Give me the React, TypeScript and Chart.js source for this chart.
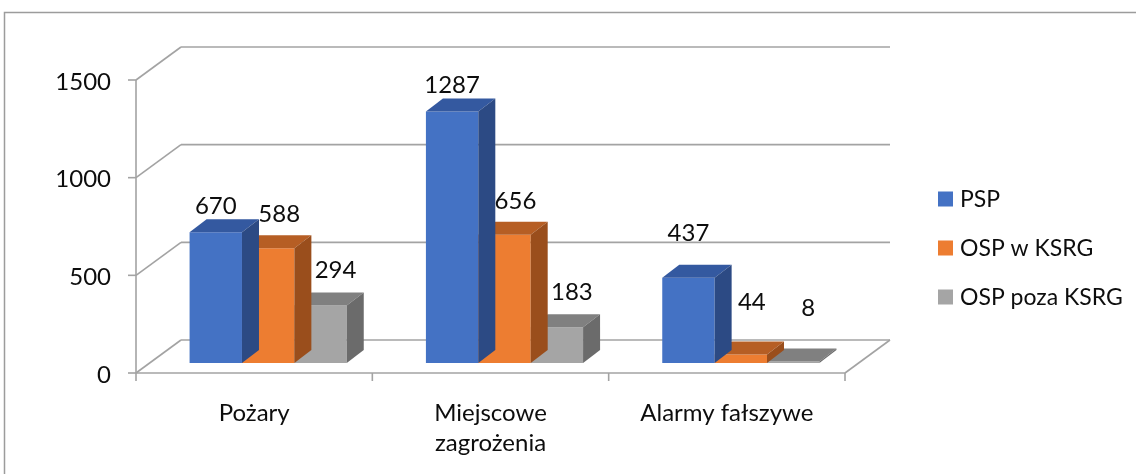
import React, { useEffect, useRef } from "react";
import { Chart, registerables } from "chart.js";

Chart.register(...registerables);

const categories: string[][] = [["Pożary"], ["Miejscowe", "zagrożenia"], ["Alarmy fałszywe"]];
const seriesNames = ["PSP", "OSP w KSRG", "OSP poza KSRG"];
const pspValues = [670, 1287, 437];
const ospKsrgValues = [588, 656, 44];
const ospPozaValues = [294, 183, 8];
const yTicks = [0, 500, 1000, 1500];

// styling
const FONT = "Lato, 'Open Sans', sans-serif";
const FRONT = { dx: -14, dy: 10 };
const BACK = { dx: 31, dy: -23 };
const DEPTH = { dx: 17, dy: -13 };
const GRID = "#a3a3a3";
const faceColors = ["#4472C4", "#ED7D31", "#A5A5A5"];
const topColors = ["#3459A0", "#B65E24", "#808080"];
const sideColors = ["#2C4A84", "#9A4E1C", "#6B6B6B"];
const labelShiftX = [0, 11, 15];
const labelLiftSeries = [26, 34, 35];
const labelLiftCategory = [0, 0, 18];

function line(ctx: CanvasRenderingContext2D, x1: number, y1: number, x2: number, y2: number) {
  ctx.beginPath();
  ctx.moveTo(x1, y1);
  ctx.lineTo(x2, y2);
  ctx.stroke();
}

const pseudo3d = {
  id: "pseudo3d",
  beforeDraw(chart: any) {
    const ctx: CanvasRenderingContext2D = chart.ctx;
    ctx.save();
    ctx.fillStyle = "#ffffff";
    ctx.fillRect(0, 0, chart.width, chart.height);
    ctx.strokeStyle = "#9c9c9c";
    ctx.lineWidth = 1.5;
    ctx.strokeRect(4.5, 12.5, chart.width + 20, chart.height + 20);
    ctx.restore();
  },
  beforeDatasetsDraw(chart: any) {
    const ctx: CanvasRenderingContext2D = chart.ctx;
    const { left: L, right: R } = chart.chartArea;
    const x = chart.scales.x;
    const y = chart.scales.y;
    ctx.save();
    ctx.strokeStyle = GRID;
    ctx.lineWidth = 1.6;
    ctx.fillStyle = "#0d0d0d";
    ctx.font = `24px ${FONT}`;
    ctx.textAlign = "right";
    ctx.textBaseline = "middle";
    for (const t of yTicks) {
      const py = y.getPixelForValue(t);
      line(ctx, L + FRONT.dx, py + FRONT.dy, L + BACK.dx, py + BACK.dy);
      line(ctx, L + BACK.dx, py + BACK.dy, R + BACK.dx, py + BACK.dy);
      line(ctx, L + FRONT.dx - 8, py + FRONT.dy, L + FRONT.dx, py + FRONT.dy);
      ctx.fillText(String(t), L + FRONT.dx - 25, py + FRONT.dy + 2);
    }
    const y0 = y.getPixelForValue(0);
    const yTop = y.getPixelForValue(yTicks[yTicks.length - 1]);
    line(ctx, L + FRONT.dx, yTop + FRONT.dy, L + FRONT.dx, y0 + FRONT.dy);
    line(ctx, L + FRONT.dx, y0 + FRONT.dy, R + FRONT.dx, y0 + FRONT.dy);
    line(ctx, R + FRONT.dx, y0 + FRONT.dy, R + BACK.dx, y0 + BACK.dy);
    for (let i = 0; i <= categories.length; i++) {
      const bx = x.getPixelForValue(i - 0.5) + FRONT.dx;
      line(ctx, bx, y0 + FRONT.dy, bx, y0 + FRONT.dy + 8);
    }
    ctx.textAlign = "center";
    categories.forEach((lines, i) => {
      const cx = x.getPixelForValue(i) + FRONT.dx;
      lines.forEach((txt, j) => {
        ctx.fillText(txt, cx, y0 + FRONT.dy + 40 + j * 30);
      });
    });
    ctx.restore();
  },
  afterDatasetDraw(chart: any, args: any) {
    const ctx: CanvasRenderingContext2D = chart.ctx;
    const di = args.index;
    const meta = args.meta;
    ctx.save();
    meta.data.forEach((el: any) => {
      const p = el.getProps(["x", "y", "base", "width"], true);
      const l = p.x - p.width / 2;
      const r = p.x + p.width / 2;
      ctx.fillStyle = topColors[di];
      ctx.beginPath();
      ctx.moveTo(l, p.y);
      ctx.lineTo(l + DEPTH.dx, p.y + DEPTH.dy);
      ctx.lineTo(r + DEPTH.dx, p.y + DEPTH.dy);
      ctx.lineTo(r, p.y);
      ctx.closePath();
      ctx.fill();
      ctx.fillStyle = sideColors[di];
      ctx.beginPath();
      ctx.moveTo(r, p.y);
      ctx.lineTo(r + DEPTH.dx, p.y + DEPTH.dy);
      ctx.lineTo(r + DEPTH.dx, p.base + DEPTH.dy);
      ctx.lineTo(r, p.base);
      ctx.closePath();
      ctx.fill();
    });
    ctx.restore();
  },
  afterDatasetsDraw(chart: any) {
    const ctx: CanvasRenderingContext2D = chart.ctx;
    ctx.save();
    ctx.fillStyle = "#0d0d0d";
    ctx.font = `24px ${FONT}`;
    ctx.textAlign = "center";
    ctx.textBaseline = "middle";
    chart.data.datasets.forEach((ds: any, di: number) => {
      const meta = chart.getDatasetMeta(di);
      meta.data.forEach((el: any, i: number) => {
        const p = el.getProps(["x", "y"], true);
        ctx.fillText(
          String(ds.data[i]),
          p.x + labelShiftX[di],
          p.y - labelLiftSeries[di] - labelLiftCategory[i]
        );
      });
    });
    // legend
    ctx.font = `23px ${FONT}`;
    ctx.textAlign = "left";
    chart.data.datasets.forEach((ds: any, di: number) => {
      const cy = 199 + di * 49;
      ctx.fillStyle = ds.backgroundColor;
      ctx.fillRect(938, cy - 7.5, 15, 15);
      ctx.fillStyle = "#0d0d0d";
      ctx.fillText(ds.label, 960, cy + 1);
    });
    ctx.restore();
  },
};

export default function App() {
  const ref = useRef<HTMLCanvasElement | null>(null);
  useEffect(() => {
    if (!ref.current) return;
    const values = [pspValues, ospKsrgValues, ospPozaValues];
    const chart = new Chart(ref.current, {
      type: "bar",
      data: {
        labels: categories,
        datasets: seriesNames.map((name, i) => ({
          label: name,
          data: values[i],
          backgroundColor: faceColors[i],
          borderWidth: 0,
          categoryPercentage: 0.665,
          barPercentage: 1.0,
        })),
      },
      options: {
        responsive: false,
        animation: false,
        devicePixelRatio: 1,
        layout: { padding: { left: 150, right: 277, top: 70, bottom: 111 } },
        scales: {
          x: { display: false },
          y: { display: false, min: 0, max: 1500 },
        },
        plugins: {
          legend: { display: false },
          tooltip: { enabled: false },
        },
      },
      plugins: [pseudo3d],
    });
    return () => chart.destroy();
  }, []);
  return (
    <div style={{ position: "fixed", left: 0, top: 0, width: 1136, height: 474, background: "#fff" }}>
      <canvas ref={ref} width={1136} height={474} style={{ display: "block" }} />
    </div>
  );
}
